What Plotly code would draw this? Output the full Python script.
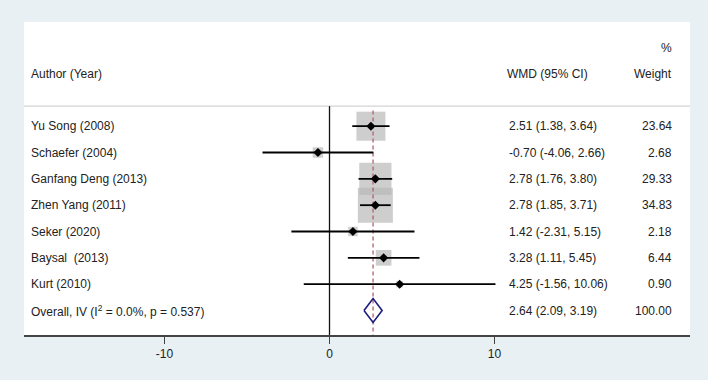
import plotly.graph_objects as go
import math

authors = ["Yu Song (2008)", "Schaefer (2004)", "Ganfang Deng (2013)", "Zhen Yang (2011)",
           "Seker (2020)", "Baysal  (2013)", "Kurt (2010)"]
wmd = [2.51, -0.70, 2.78, 2.78, 1.42, 3.28, 4.25]
ci_low = [1.38, -4.06, 1.76, 1.85, -2.31, 1.11, -1.56]
ci_high = [3.64, 2.66, 3.80, 3.71, 5.15, 5.45, 10.06]
weights = [23.64, 2.68, 29.33, 34.83, 2.18, 6.44, 0.90]

overall_label = "Overall, IV (I<sup>2</sup> = 0.0%, p = 0.537)"
overall_est = 2.64
overall_low = 2.09
overall_high = 3.19
overall_weight = 100.00

x_ticks = [-10, 0, 10]

TEXT = "#222222"
FONT = "Liberation Sans, Arial, sans-serif"

rows = list(range(len(authors)))
overall_row = len(authors)
Y_BOTTOM, Y_TOP = 7.93, -3.956
SEP = -0.76

fig = go.Figure()

# weight boxes
wmax = max(weights)
sizes = [34 * math.sqrt(w / wmax) + 1 for w in weights]
fig.add_trace(go.Scatter(
    x=wmd, y=rows, mode="markers",
    marker=dict(symbol="square", size=sizes, color="#b9b9b9", line=dict(width=0)),
    hoverinfo="skip", showlegend=False))

# overall dashed line
fig.add_trace(go.Scatter(
    x=[overall_est, overall_est], y=[-0.6, Y_BOTTOM], mode="lines",
    line=dict(color="#b8606c", width=1.3, dash="4px,3px"),
    hoverinfo="skip", showlegend=False))

# zero line
fig.add_trace(go.Scatter(
    x=[0, 0], y=[SEP, Y_BOTTOM], mode="lines",
    line=dict(color="#111111", width=1.3),
    hoverinfo="skip", showlegend=False))

# CIs and point estimates
fig.add_trace(go.Scatter(
    x=wmd, y=rows, mode="markers",
    marker=dict(symbol="diamond", size=7, color="black"),
    error_x=dict(type="data", symmetric=False,
                 array=[h - e for h, e in zip(ci_high, wmd)],
                 arrayminus=[e - l for e, l in zip(wmd, ci_low)],
                 color="black", thickness=1.8, width=0),
    hoverinfo="skip", showlegend=False))

# overall diamond
h = 0.456
fig.add_trace(go.Scatter(
    x=[overall_low, overall_est, overall_high, overall_est, overall_low],
    y=[overall_row, overall_row - h, overall_row, overall_row + h, overall_row],
    mode="lines", line=dict(color="#1c1c80", width=1.6),
    hoverinfo="skip", showlegend=False))

# separator line
fig.add_shape(type="line", xref="paper", yref="y", x0=0, x1=1, y0=SEP, y1=SEP,
              line=dict(color="#d4d4d4", width=1.2), layer="below")

ann = []
def txt(x, y, s, anchor):
    ann.append(dict(x=x, y=y, xref="paper", yref="y", text=s, showarrow=False,
                    xanchor=anchor, yanchor="middle", font=dict(size=12, color=TEXT, family=FONT)))

XA, XW, XR = 0.0075, 0.725, 0.976
hdr = -1.98
txt(XA, hdr, "Author (Year)", "left")
txt(XW - 0.003, hdr, "WMD (95% CI)", "left")
txt(XR, hdr, "Weight", "right")
txt(XR, -2.97, "%", "right")

for i, a in enumerate(authors):
    txt(XA, i, a, "left")
    txt(XW, i, f"{wmd[i]:.2f} ({ci_low[i]:.2f}, {ci_high[i]:.2f})", "left")
    txt(XR, i, f"{weights[i]:.2f}", "right")
txt(XA, overall_row, overall_label, "left")
txt(XW, overall_row, f"{overall_est:.2f} ({overall_low:.2f}, {overall_high:.2f})", "left")
txt(XR, overall_row, f"{overall_weight:.2f}", "right")

fig.update_layout(
    width=708, height=380,
    margin=dict(l=24, r=18, t=22, b=45),
    paper_bgcolor="#e8f0f3", plot_bgcolor="white",
    annotations=ann, showlegend=False,
    font=dict(family=FONT, size=12, color=TEXT),
)
fig.update_xaxes(range=[-18.515, 21.848], tickvals=x_ticks, ticktext=[str(t) for t in x_ticks],
                 showgrid=False, zeroline=False, showline=True, linecolor="#444444", linewidth=1.6,
                 ticks="outside", ticklen=7, tickcolor="#444444", tickwidth=1.3,
                 tickfont=dict(size=12, color=TEXT, family=FONT), fixedrange=True)
fig.update_yaxes(range=[Y_BOTTOM, Y_TOP], visible=False, showgrid=False, zeroline=False, fixedrange=True)

fig.write_html("out.html", config={"displayModeBar": False},
               post_script="document.body.style.margin='0';document.body.style.overflow='hidden';")
